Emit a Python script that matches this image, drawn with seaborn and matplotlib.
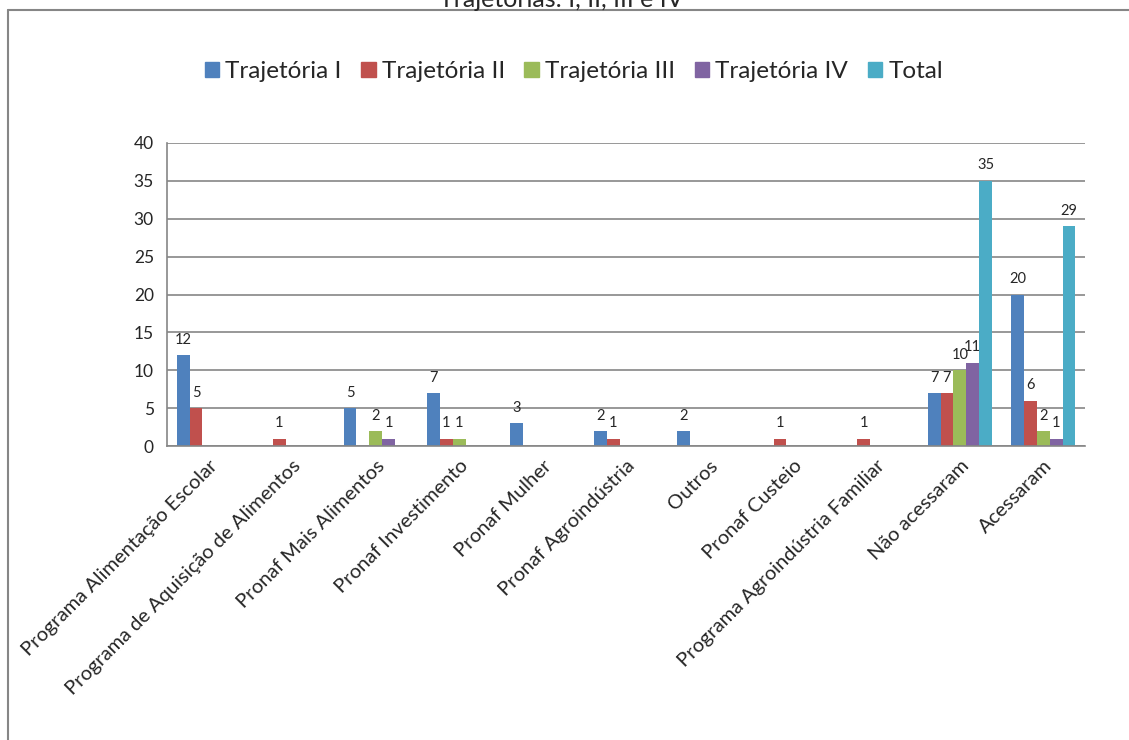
import pandas as pd
import seaborn as sns
import matplotlib.pyplot as plt
from matplotlib.lines import Line2D

# === 1. Data ===
categorias = [
    "Programa Alimentação Escolar",
    "Programa de Aquisição de Alimentos",
    "Pronaf Mais Alimentos",
    "Pronaf Investimento",
    "Pronaf Mulher",
    "Pronaf Agroindústria",
    "Outros",
    "Pronaf Custeio",
    "Programa Agroindústria Familiar",
    "Não acessaram",
    "Acessaram",
]
traj_1 = [12, 0, 5, 7, 3, 2, 2, 0, 0, 7, 20]
traj_2 = [5, 1, 0, 1, 0, 1, 0, 1, 1, 7, 6]
traj_3 = [0, 0, 2, 1, 0, 0, 0, 0, 0, 10, 2]
traj_4 = [0, 0, 1, 0, 0, 0, 0, 0, 0, 11, 1]
total = [0, 0, 0, 0, 0, 0, 0, 0, 0, 35, 29]

series = ["Trajetória I", "Trajetória II", "Trajetória III", "Trajetória IV", "Total"]
cores = ["#4F81BD", "#C0504D", "#9BBB59", "#8064A2", "#4BACC6"]

rows = []
for nome, vals in zip(series, [traj_1, traj_2, traj_3, traj_4, total]):
    for cat, v in zip(categorias, vals):
        rows.append({"Categoria": cat, "Serie": nome, "Valor": v})
df = pd.DataFrame(rows)

# === 2. Plot ===
sns.set_style("white")
plt.rcParams["font.family"] = ["Lato", "DejaVu Sans"]

fig = plt.figure(figsize=(11.29, 7.4), dpi=100)
ax = fig.add_axes([0.148, 0.397, 0.813, 0.410])

sns.barplot(data=df, x="Categoria", y="Valor", hue="Serie", order=categorias,
            hue_order=series, palette=cores, width=0.77, saturation=1,
            linewidth=0, ax=ax)

for cont in ax.containers:
    labels = [str(int(b.get_height())) if b.get_height() > 0 else "" for b in cont]
    ax.bar_label(cont, labels=labels, padding=6, fontsize=10.5)

# === 3. Customize ===
ax.set_ylim(0, 40)
ax.set_xlim(-0.5, len(categorias) - 0.5)
ax.set_yticks(range(0, 41, 5))
ax.yaxis.grid(True, color="#868686", linewidth=1.2)
ax.set_axisbelow(True)
ax.set_xlabel("")
ax.set_ylabel("")
for s in ["top", "right"]:
    ax.spines[s].set_visible(False)
for s in ["left", "bottom"]:
    ax.spines[s].set_color("#868686")
    ax.spines[s].set_linewidth(1.2)

ax.set_xticks(range(len(categorias)))
ax.set_xticklabels(categorias, rotation=45, ha="right", rotation_mode="anchor", fontsize=14.5)
ax.tick_params(axis="x", length=0, pad=8)
ax.set_xticks([i - 0.5 for i in range(len(categorias) + 1)], minor=True)
ax.tick_params(axis="x", which="minor", length=6, color="#868686", width=1.2)
ax.tick_params(axis="y", length=6, color="#868686", width=1.2, labelsize=12.5)

handles = [plt.Rectangle((0, 0), 1, 1, color=c) for c in cores]
leg = ax.legend(handles, series, loc="center", bbox_to_anchor=(0.443, 1.234),
                ncol=5, frameon=False, fontsize=17.5, handlelength=0.6,
                handleheight=0.6, handletextpad=0.25, columnspacing=0.8)
leg.set_in_layout(False)

fig.text(0.497, 1.001, "Trajetórias: I, II, III e IV", ha="center", va="center", fontsize=18)

# moldura do gráfico
fig.add_artist(Line2D([0.007, 1.0], [0.987, 0.987], color="#868686", linewidth=1.5))
fig.add_artist(Line2D([0.007, 0.007], [0.0, 0.987], color="#868686", linewidth=1.5))

# === 4. Save ===
fig.savefig("out.png", dpi=100)
